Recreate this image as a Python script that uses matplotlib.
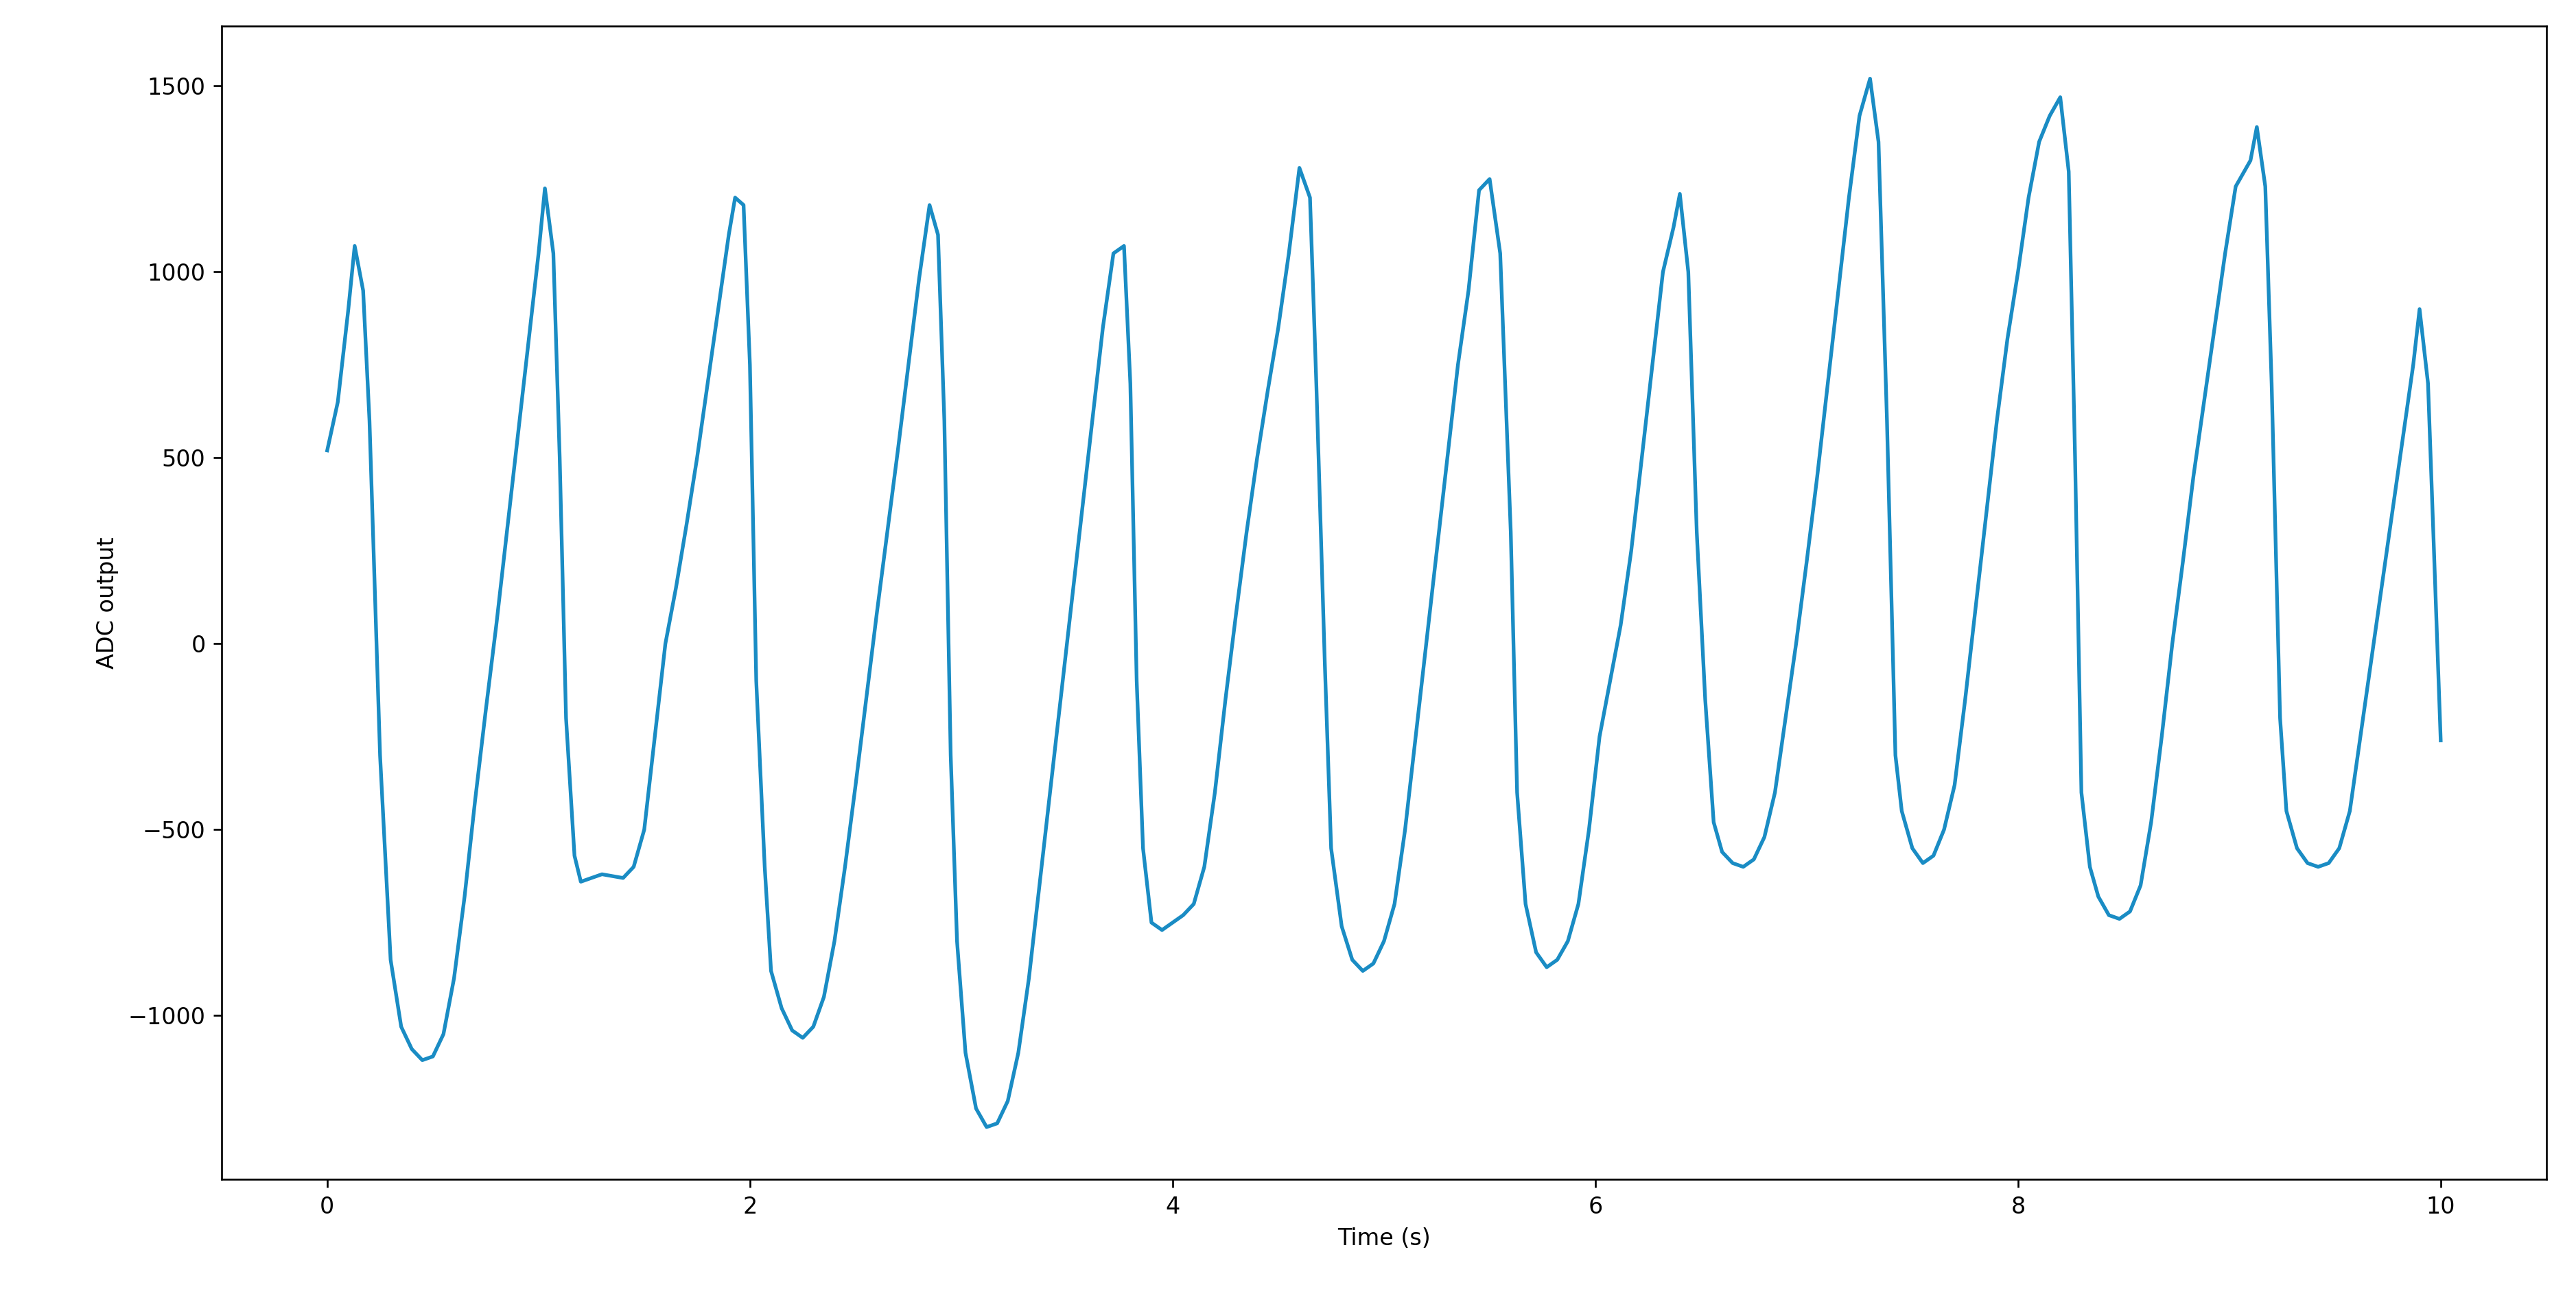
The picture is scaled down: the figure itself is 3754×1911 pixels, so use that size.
import matplotlib
matplotlib.use("Agg")
import matplotlib.pyplot as plt

time_s = [0,0.05,0.1,0.13,0.17,0.2,0.25,0.3,0.35,0.4,0.45,0.5,0.55,0.6,0.65,0.7,0.75,0.8,0.85,0.9,0.95,1.0,1.03,1.07,1.1,1.13,1.17,1.2,1.3,1.4,1.45,1.5,1.55,1.6,
 1.65,1.7,1.75,1.8,1.85,1.9,1.93,1.97,2.0,2.03,2.07,2.1,2.15,2.2,2.25,2.3,2.35,2.4,2.45,2.5,2.55,2.6,2.65,2.7,2.75,2.8,2.85,2.89,2.92,2.95,2.98,
 3.02,3.07,3.12,3.17,3.22,3.27,3.32,3.37,3.42,3.47,3.52,3.57,3.62,3.67,3.72,3.77,3.8,3.83,3.86,3.9,3.95,4.0,4.05,4.1,4.15,4.2,4.25,4.3,4.35,4.4,
 4.45,4.5,4.55,4.6,4.65,4.68,4.72,4.75,4.8,4.85,4.9,4.95,5.0,5.05,5.1,5.15,5.2,5.25,5.3,5.35,5.4,5.45,5.5,5.55,5.6,5.63,5.67,5.72,5.77,5.82,5.87,
 5.92,5.97,6.02,6.07,6.12,6.17,6.22,6.27,6.32,6.37,6.4,6.44,6.48,6.52,6.56,6.6,6.65,6.7,6.75,6.8,6.85,6.9,6.95,7.0,7.05,7.1,7.15,7.2,7.25,7.3,
 7.34,7.38,7.42,7.45,7.5,7.55,7.6,7.65,7.7,7.75,7.8,7.85,7.9,7.95,8.0,8.05,8.1,8.15,8.2,8.24,8.27,8.3,8.34,8.38,8.43,8.48,8.53,8.58,8.63,8.68,
 8.73,8.78,8.83,8.88,8.93,8.98,9.03,9.1,9.13,9.17,9.2,9.24,9.27,9.32,9.37,9.42,9.47,9.52,9.57,9.62,9.67,9.72,9.77,9.82,9.87,9.9,9.94,10.0]
adc = [520,650,900,1070,950,600,-300,-850,-1030,-1090,-1120,-1110,-1050,-900,-680,-420,-180,50,300,550,800,1050,1225,1050,500,-200,-570,-640,-620,-630,-600,-500,-250,0,
 150,320,500,700,900,1100,1200,1180,750,-100,-600,-880,-980,-1040,-1060,-1030,-950,-800,-600,-380,-150,80,300,520,750,980,1180,1100,600,-300,-800,
 -1100,-1250,-1300,-1290,-1230,-1100,-900,-650,-400,-150,100,350,600,850,1050,1070,700,-100,-550,-750,-770,-750,-730,-700,-600,-400,-150,80,300,500,
 680,850,1050,1280,1200,700,-50,-550,-760,-850,-880,-860,-800,-700,-500,-250,0,250,500,750,950,1220,1250,1050,300,-400,-700,-830,-870,-850,-800,
 -700,-500,-250,-100,50,250,500,750,1000,1120,1210,1000,300,-150,-480,-560,-590,-600,-580,-520,-400,-200,0,220,450,700,950,1200,1420,1520,
 1350,600,-300,-450,-550,-590,-570,-500,-380,-150,100,350,600,820,1000,1200,1350,1420,1470,1270,500,-400,-600,-680,-730,-740,-720,-650,-480,-250,
 0,220,450,650,850,1050,1230,1300,1390,1230,700,-200,-450,-550,-590,-600,-590,-550,-450,-250,-50,150,350,550,750,900,700,-260]

fig = plt.figure(figsize=(3754/240, 1911/240), dpi=240)
ax = fig.add_axes([0.086, 0.1003, 0.9025, 0.8797])
ax.plot(time_s, adc, color="#1a8cc4", lw=1.6)
ax.set_xlabel("Time (s)", fontsize=10)
ax.set_ylabel("ADC output", fontsize=10)
ax.tick_params(labelsize=10)
fig.savefig("out.png", dpi=240)
